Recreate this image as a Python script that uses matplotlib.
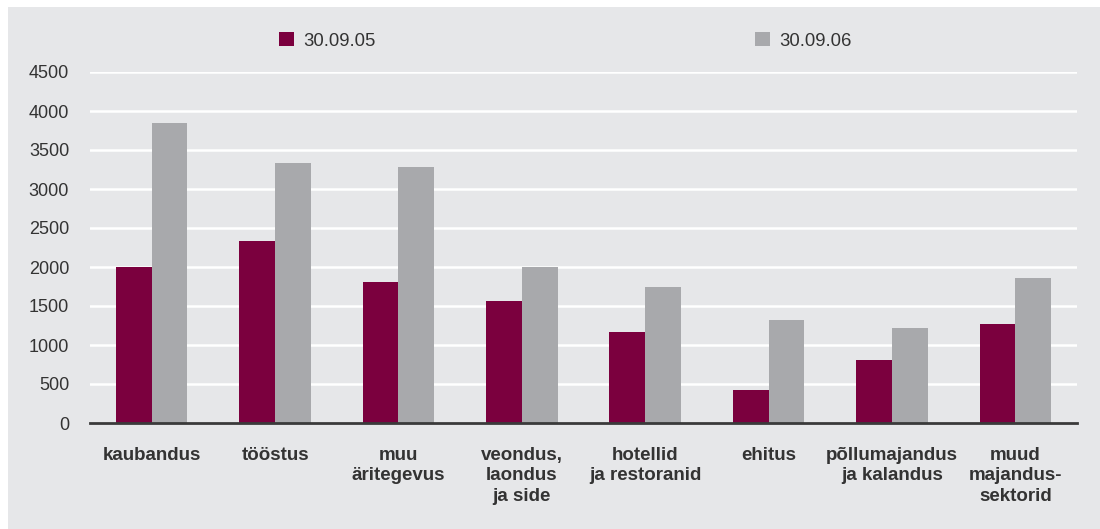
import matplotlib.pyplot as plt
from matplotlib.patches import Rectangle, Patch
import numpy as np

# === Données ===
categories = ["kaubandus", "tööstus", "muu\näritegevus", "veondus,\nlaondus\nja side",
              "hotellid\nja restoranid", "ehitus", "põllumajandus\nja kalandus",
              "muud\nmajandus-\nsektorid"]
val_2005 = [2000, 2330, 1810, 1560, 1170, 420, 810, 1270]
val_2006 = [3850, 3330, 3280, 2000, 1740, 1320, 1220, 1860]
series_labels = ["30.09.05", "30.09.06"]

rouge = "#7b003e"
gris = "#a8a9ac"
fond = "#e6e7e9"
texte = "#333333"

plt.rcParams['font.family'] = ['Liberation Sans', 'DejaVu Sans']

fig = plt.figure(figsize=(11, 5.29), dpi=100, facecolor="white")
fig.patches.append(Rectangle((8 / 1100, 0), 1, 522 / 529, transform=fig.transFigure,
                             facecolor=fond, edgecolor="none", zorder=-10))

ax = fig.add_axes([90 / 1100, 1 - 423 / 529, 987 / 1100, (423 - 72) / 529])
ax.set_zorder(2)
ax.patch.set_alpha(0)

x = np.arange(len(categories))
w = 0.29
ax.bar(x - w / 2, val_2005, w, color=rouge, zorder=3)
ax.bar(x + w / 2, val_2006, w, color=gris, zorder=3)

ax.set_xlim(-0.5, len(categories) - 0.5)
ax.set_ylim(0, 4500)
ax.set_yticks(range(0, 4501, 500))
ax.yaxis.grid(True, color="white", linewidth=1.8, zorder=1)
ax.set_axisbelow(True)

for s in ["top", "right", "left"]:
    ax.spines[s].set_visible(False)
ax.spines["bottom"].set_color("#3a3a3a")
ax.spines["bottom"].set_linewidth(2)
ax.spines["bottom"].set_zorder(4)

ax.set_xticks(x)
ax.set_xticklabels(categories, fontsize=13.5, fontweight="bold", color=texte,
                   linespacing=1.27, va="top")
ax.tick_params(axis="x", length=0, pad=17)
ax.tick_params(axis="y", length=0, pad=15, labelsize=13, labelcolor=texte)

# === Légende ===
h1 = Patch(facecolor=rouge, edgecolor="none")
h2 = Patch(facecolor=gris, edgecolor="none")
for h, lab, x0 in [(h1, series_labels[0], 279), (h2, series_labels[1], 755)]:
    fig.legend([h], [lab], loc="center left",
               bbox_to_anchor=(x0 / 1100, 1 - 41 / 529), frameon=False,
               borderpad=0, borderaxespad=0,
               fontsize=13.3, handlelength=0.8, handleheight=0.8, handletextpad=0.5,
               labelcolor=texte)

plt.savefig("out.png", dpi=100)
